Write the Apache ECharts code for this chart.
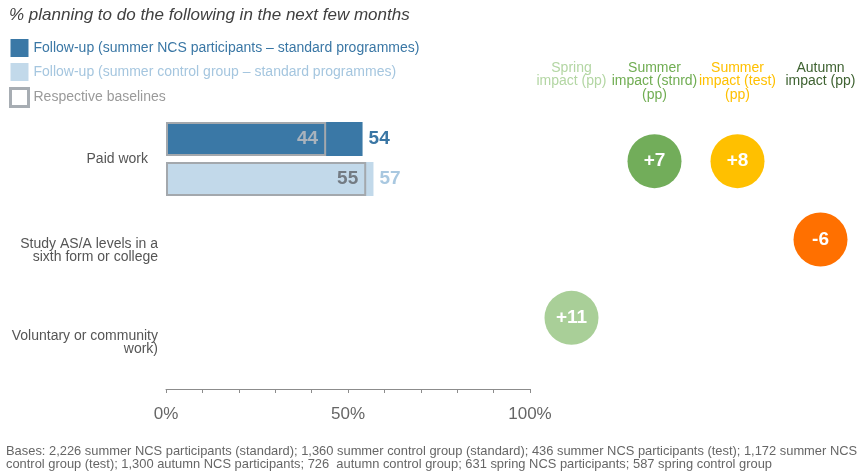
<!DOCTYPE html>
<html>
<head>
<meta charset="utf-8">
<script src="https://cdn.jsdelivr.net/npm/echarts@6/dist/echarts.min.js"></script>
<style>
  html, body { margin: 0; padding: 0; background: #fff; }
  #chart { width: 865px; height: 472px; }
</style>
</head>
<body>
<div id="chart"></div>
<script>
// Categories (rows)
const categories = [
  'Paid work',
  'Study AS/A levels in a\nsixth form or college',
  'Voluntary or community\nwork)'
];

// Percentages planning each activity
const ncsFollowUp = [54, null, null];
const controlFollowUp = [57, null, null];
const ncsBaseline = [44, null, null];
const controlBaseline = [55, null, null];

// Impact columns (percentage points)
const impactColumns = [
  'Spring\nimpact (pp)',
  'Summer\nimpact (stnrd)\n(pp)',
  'Summer\nimpact (test)\n(pp)',
  'Autumn\nimpact (pp)'
];
const springImpact = [null, null, 11];
const summerStdImpact = [7, null, null];
const summerTestImpact = [8, null, null];
const autumnImpact = [null, -6, null];

// Labelled ticks on the percentage axis
const axisTickLabels = [0, 50, 100];

const FONT = '"Liberation Sans", Arial, Helvetica, sans-serif';
const headerColors = ['#b3d6a3', '#70ad52', '#ffc000', '#3e6231'];
const bubbleColors = ['#a9cf98', '#72ad5a', '#ffc000', '#ff7000'];

const legendNames = [
  'Follow-up (summer NCS participants \u2013 standard programmes)',
  'Follow-up (summer control group \u2013 standard programmes)',
  'Respective baselines'
];

function bubbleData(values, col) {
  const out = [];
  values.forEach((v, row) => { if (v !== null) out.push([col, row, v]); });
  return out;
}

function bubbleSeries(values, col) {
  return {
    type: 'scatter',
    xAxisIndex: 1,
    yAxisIndex: 2,
    symbolSize: 54,
    data: bubbleData(values, col),
    itemStyle: { color: bubbleColors[col], opacity: 1 },
    label: {
      show: true,
      position: 'inside',
      formatter: p => (p.value[2] > 0 ? '+' : '') + p.value[2],
      color: '#fff',
      fontFamily: FONT,
      fontWeight: 'bold',
      fontSize: 19
    },
    emphasis: { disabled: true }
  };
}

const chart = echarts.init(document.getElementById('chart'));

chart.setOption({
  animation: false,
  textStyle: { fontFamily: FONT },
  title: [
    {
      text: '% planning to do the following in the next few months',
      left: 9, top: 7, padding: 0,
      textStyle: { fontFamily: FONT, fontStyle: 'italic', fontWeight: 'normal', fontSize: 17, color: '#404040' }
    },
    {
      text: 'Bases: 2,226 summer NCS participants (standard); 1,360 summer control group (standard); 436 summer NCS participants (test); 1,172 summer NCS\ncontrol group (test); 1,300 autumn NCS participants; 726  autumn control group; 631 spring NCS participants; 587 spring control group',
      left: 6, top: 445, padding: 0,
      textStyle: { fontFamily: FONT, fontWeight: 'normal', fontSize: 12.9, lineHeight: 13, color: '#666' }
    }
  ],
  legend: {
    orient: 'vertical',
    left: 9, top: 39, padding: 0,
    itemWidth: 18, itemHeight: 18, itemGap: 6,
    icon: 'rect',
    selectedMode: false,
    textStyle: { fontFamily: FONT, fontSize: 14 },
    data: [
      { name: legendNames[0], textStyle: { color: '#3a77a5' } },
      { name: legendNames[1], textStyle: { color: '#a5c6df' } },
      { name: legendNames[2], textStyle: { color: '#9a9a9a' },
        itemStyle: { color: '#fff', borderColor: '#a7adb3', borderWidth: 3 } }
    ]
  },
  grid: [
    { left: 166, right: 335, top: 113, bottom: 83 },
    { left: 530, right: 3, top: 122, bottom: 115 }
  ],
  xAxis: [
    {
      type: 'value', gridIndex: 0, min: 0, max: 100, interval: 10,
      axisLine: { show: true, lineStyle: { color: '#8c8c8c', width: 1 } },
      axisTick: { show: true, length: 4, lineStyle: { color: '#8c8c8c' } },
      splitLine: { show: false },
      axisLabel: {
        margin: 17,
        fontFamily: FONT, fontSize: 17, color: '#666',
        formatter: v => axisTickLabels.includes(v) ? v + '%' : ''
      }
    },
    {
      type: 'category', gridIndex: 1, position: 'top',
      data: impactColumns,
      axisLine: { show: false }, axisTick: { show: false },
      splitLine: { show: false },
      axisLabel: {
        interval: 0,
        margin: 61,
        verticalAlign: 'top',
        fontFamily: FONT, fontSize: 14, lineHeight: 13.5,
        color: (v, i) => headerColors[i]
      }
    }
  ],
  yAxis: [
    {
      type: 'category', gridIndex: 0, inverse: true, data: categories,
      axisLine: { show: false }, axisTick: { show: false },
      axisLabel: {
        margin: 8, fontFamily: FONT, fontSize: 14, lineHeight: 13, color: '#555',
        formatter: (v, i) => i === 0 ? '{p|' + v + '}' : v,
        rich: { p: { fontFamily: FONT, fontSize: 14, color: '#555', padding: [0, 10, 0, 0] } }
      }
    },
    {
      type: 'category', gridIndex: 0, inverse: true, data: categories, show: false
    },
    {
      type: 'category', gridIndex: 1, inverse: true, data: categories, show: false
    }
  ],
  series: [
    {
      name: legendNames[0], type: 'bar', xAxisIndex: 0, yAxisIndex: 0,
      barWidth: 34, barGap: '18%',
      data: ncsFollowUp,
      itemStyle: { color: '#3a78a6' },
      label: { show: true, position: 'right', distance: 6, color: '#3a76a4',
        fontFamily: FONT, fontWeight: 'bold', fontSize: 19 },
      emphasis: { disabled: true }
    },
    {
      name: legendNames[1], type: 'bar', xAxisIndex: 0, yAxisIndex: 0,
      barWidth: 34, barGap: '18%',
      data: controlFollowUp,
      itemStyle: { color: '#c2d9ea' },
      label: { show: true, position: 'right', distance: 6, color: '#a9c8e0',
        fontFamily: FONT, fontWeight: 'bold', fontSize: 19 },
      emphasis: { disabled: true }
    },
    {
      name: legendNames[2], type: 'bar', xAxisIndex: 0, yAxisIndex: 1,
      barWidth: 34, barGap: '18%', z: 3,
      data: ncsBaseline,
      itemStyle: { color: 'rgba(0,0,0,0)', borderColor: '#a3a8ad', borderWidth: 2 },
      label: { show: true, position: 'insideRight', distance: 8, color: '#a9b3bd',
        fontFamily: FONT, fontWeight: 'bold', fontSize: 19 },
      emphasis: { disabled: true }
    },
    {
      name: legendNames[2], type: 'bar', xAxisIndex: 0, yAxisIndex: 1,
      barWidth: 34, barGap: '18%', z: 3,
      data: controlBaseline,
      itemStyle: { color: 'rgba(0,0,0,0)', borderColor: '#a3a8ad', borderWidth: 2 },
      label: { show: true, position: 'insideRight', distance: 8, color: '#737b83',
        fontFamily: FONT, fontWeight: 'bold', fontSize: 19 },
      emphasis: { disabled: true }
    },
    bubbleSeries(springImpact, 0),
    bubbleSeries(summerStdImpact, 1),
    bubbleSeries(summerTestImpact, 2),
    bubbleSeries(autumnImpact, 3)
  ]
});
</script>
</body>
</html>
